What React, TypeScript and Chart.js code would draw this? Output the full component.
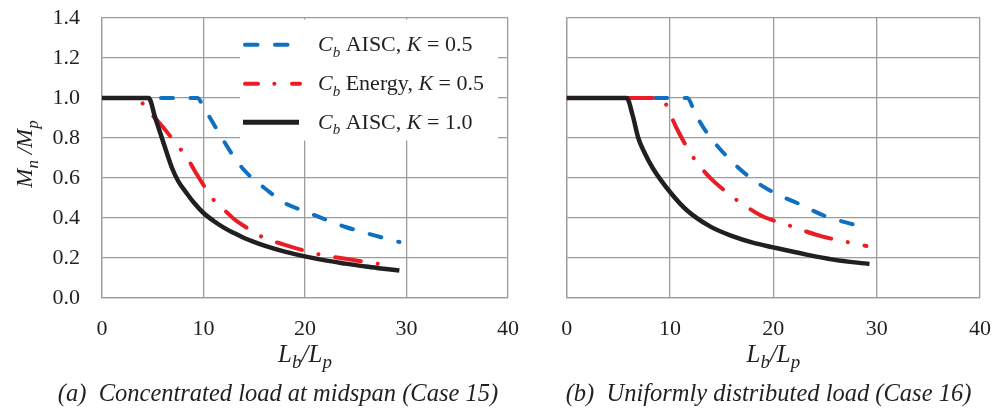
import React, { useEffect, useRef } from 'react';
import { Chart, registerables } from 'chart.js';

Chart.register(...registerables);

// ---------- data ----------
// Panel (a): concentrated load at midspan (Case 15)
const aAisc05X = [0, 9.4, 10, 11, 12, 13, 14, 15, 16, 18, 20, 22, 24, 26, 28, 29.3];
const aAisc05Y = [1.0, 1.0, 0.955, 0.87, 0.785, 0.705, 0.64, 0.59, 0.55, 0.475, 0.433, 0.393, 0.355, 0.325, 0.297, 0.28];
const aEnergy05X = [0, 3.5, 4.3, 5.75, 7.4, 8.4, 9.2, 10, 11, 12, 13, 14, 15.6, 17, 18.5, 20, 21.5, 23, 24.5, 26, 27.9];
const aEnergy05Y = [1.0, 1.0, 0.95, 0.87, 0.765, 0.7, 0.63, 0.565, 0.49, 0.443, 0.395, 0.36, 0.31, 0.282, 0.258, 0.236, 0.217, 0.204, 0.192, 0.18, 0.166];
const aAisc10X = [0, 4.6, 5.25, 6.0, 6.9, 7.5, 8.4, 9, 10, 11, 12, 13, 14, 16, 18, 20, 22, 24, 26, 28, 29.3];
const aAisc10Y = [1.0, 1.0, 0.9, 0.785, 0.65, 0.585, 0.52, 0.48, 0.425, 0.385, 0.352, 0.325, 0.3, 0.262, 0.232, 0.208, 0.188, 0.172, 0.157, 0.145, 0.137];

// Panel (b): uniformly distributed load (Case 16)
const bAisc05X = [0, 11.7, 12.25, 12.9, 13.7, 15.5, 17.6, 20, 22.3, 25, 27.9];
const bAisc05Y = [1.0, 1.0, 0.947, 0.88, 0.817, 0.708, 0.608, 0.528, 0.475, 0.41, 0.365];
const bEnergy05X = [0, 9.2, 9.93, 10.58, 12.03, 12.9, 13.96, 16.3, 17.5, 18.9, 20, 21.8, 23.15, 24.7, 27.6, 29.0];
const bEnergy05Y = [1.0, 1.0, 0.93, 0.855, 0.72, 0.658, 0.597, 0.496, 0.453, 0.41, 0.388, 0.358, 0.333, 0.308, 0.275, 0.26];
const bAisc10X = [0, 5.8, 6.4, 6.93, 7.5, 8.38, 10, 11.6, 13.87, 16.1, 18, 20, 23.2, 25.8, 29.3];
const bAisc10Y = [1.0, 1.0, 0.91, 0.8, 0.73, 0.645, 0.53, 0.44, 0.358, 0.308, 0.277, 0.253, 0.217, 0.192, 0.17];

// axes
const xMin = 0;
const xMax = 40;
const xStep = 10;
const yMin = 0;
const yMax = 1.4;
const yStep = 0.2;

// ---------- texts ----------
type Seg = { t: string; it?: boolean; sub?: boolean };
const yTitle: Seg[] = [{ t: 'M', it: true }, { t: 'n', it: true, sub: true }, { t: ' /', it: true }, { t: 'M', it: true }, { t: 'p', it: true, sub: true }];
const xTitle: Seg[] = [{ t: 'L', it: true }, { t: 'b', it: true, sub: true }, { t: '/', it: true }, { t: 'L', it: true }, { t: 'p', it: true, sub: true }];
const legendLabels: Seg[][] = [
  [{ t: 'C', it: true }, { t: 'b', it: true, sub: true }, { t: ' AISC, ' }, { t: 'K', it: true }, { t: ' = 0.5' }],
  [{ t: 'C', it: true }, { t: 'b', it: true, sub: true }, { t: ' Energy, ' }, { t: 'K', it: true }, { t: ' = 0.5' }],
  [{ t: 'C', it: true }, { t: 'b', it: true, sub: true }, { t: ' AISC, ' }, { t: 'K', it: true }, { t: ' = 1.0' }],
];
const captionA = '(a)  Concentrated load at midspan (Case 15)';
const captionB = '(b)  Uniformly distributed load (Case 16)';

// ---------- styles ----------
const SERIF = '"Liberation Serif", "Times New Roman", serif';
const INK = '#231f20';
const GRID = '#9d9d9d';
const BLUE = '#0f6fc1';
const RED = '#ec1c24';
const BLACK = '#231f20';
const FS = 22;

const zip = (xs: number[], ys: number[]) => xs.map((x, i) => ({ x, y: ys[i] }));

function segFont(s: Seg, size: number, subRatio: number) {
  return `${s.it ? 'italic ' : ''}${s.sub ? Math.round(size * subRatio) : size}px ${SERIF}`;
}

function drawRich(ctx: CanvasRenderingContext2D, segs: Seg[], x: number, y: number, size: number, align: 'left' | 'center', subRatio = 0.66) {
  ctx.save();
  ctx.fillStyle = INK;
  ctx.textBaseline = 'alphabetic';
  ctx.textAlign = 'left';
  const widths = segs.map((s) => {
    ctx.font = segFont(s, size, subRatio);
    return ctx.measureText(s.t).width;
  });
  const total = widths.reduce((a, b) => a + b, 0);
  let cx = align === 'center' ? x - total / 2 : x;
  segs.forEach((s, i) => {
    ctx.font = segFont(s, size, subRatio);
    ctx.fillText(s.t, cx, y + (s.sub ? size * 0.25 : 0));
    cx += widths[i];
  });
  ctx.restore();
}

function makeDatasets(ax: number[], ay: number[], ex: number[], ey: number[], kx: number[], ky: number[]) {
  const common = {
    pointRadius: 0,
    fill: false,
    cubicInterpolationMode: 'monotone' as const,
    borderJoinStyle: 'round' as const,
  };
  return [
    { ...common, label: 'Cb AISC, K = 0.5', data: zip(ax, ay), borderColor: BLUE, borderWidth: 4, borderDash: [12, 17.5], borderCapStyle: 'round' as const, order: 2 },
    { ...common, label: 'Cb Energy, K = 0.5', data: zip(ex, ey), borderColor: RED, borderWidth: 4, borderDash: [26, 17, 0.1, 17], borderCapStyle: 'round' as const, order: 1 },
    { ...common, label: 'Cb AISC, K = 1.0', data: zip(kx, ky), borderColor: BLACK, borderWidth: 4.5, borderCapStyle: 'butt' as const, order: 0 },
  ];
}

function makeScales(yAxisWidth: number, showY: boolean) {
  const tickFont = { family: SERIF, size: FS };
  return {
    x: {
      type: 'linear' as const,
      min: xMin,
      max: xMax,
      ticks: { stepSize: xStep, padding: 18, color: INK, font: tickFont },
      grid: { color: GRID, lineWidth: 1.3, drawTicks: false },
      border: { color: GRID, width: 1.3 },
      afterFit: (s: any) => {
        s.height = 112;
        s.paddingLeft = 0;
        s.paddingRight = 0;
      },
    },
    y: {
      type: 'linear' as const,
      min: yMin,
      max: yMax,
      ticks: {
        display: showY,
        stepSize: yStep,
        padding: 22,
        color: INK,
        font: tickFont,
        callback: (v: any) => Number(v).toFixed(1),
      },
      grid: { color: GRID, lineWidth: 1.3, drawTicks: false },
      border: { color: GRID, width: 1.3 },
      afterFit: (s: any) => {
        s.width = yAxisWidth;
        s.paddingTop = 0;
        s.paddingBottom = 0;
      },
    },
  };
}

function PanelChart(props: { which: 'a' | 'b'; left: number; width: number }) {
  const ref = useRef<HTMLCanvasElement | null>(null);
  const { which, left, width } = props;
  useEffect(() => {
    const canvas = ref.current;
    if (!canvas) return;
    const isA = which === 'a';
    const datasets = isA
      ? makeDatasets(aAisc05X, aAisc05Y, aEnergy05X, aEnergy05Y, aAisc10X, aAisc10Y)
      : makeDatasets(bAisc05X, bAisc05Y, bEnergy05X, bEnergy05Y, bAisc10X, bAisc10Y);

    const deco = {
      id: 'deco' + which,
      beforeDatasetsDraw(chart: any) {
        if (!isA) return;
        const ctx = chart.ctx as CanvasRenderingContext2D;
        ctx.save();
        ctx.fillStyle = '#ffffff';
        ctx.fillRect(240, 19.5, 258, 121);
        ctx.restore();
      },
      afterDraw(chart: any) {
        const ctx = chart.ctx as CanvasRenderingContext2D;
        const ca = chart.chartArea;
        const cxPlot = (ca.left + ca.right) / 2;
        drawRich(ctx, xTitle, cxPlot, 362, 25, 'center', 0.75);
        ctx.save();
        ctx.fillStyle = INK;
        ctx.font = `italic 24.5px ${SERIF}`;
        ctx.textAlign = 'center';
        ctx.textBaseline = 'alphabetic';
        ctx.fillText(isA ? captionA : captionB, isA ? 278 : 238.5, 401);
        ctx.restore();
        if (isA) {
          // y title
          ctx.save();
          ctx.translate(32, (ca.top + ca.bottom) / 2 - 4);
          ctx.rotate(-Math.PI / 2);
          drawRich(ctx, yTitle, 0, 0, 23, 'center', 0.72);
          ctx.restore();
          // legend
          const rows = [44.7, 83.7, 122.3];
          const ds = chart.data.datasets;
          rows.forEach((ry, i) => {
            const d = ds[i];
            ctx.save();
            ctx.strokeStyle = d.borderColor;
            if (i === 0) {
              ctx.lineWidth = 4;
              ctx.lineCap = 'round';
              ctx.setLineDash([12.5, 17.5]);
              ctx.beginPath();
              ctx.moveTo(245, ry);
              ctx.lineTo(297, ry);
              ctx.stroke();
            } else if (i === 1) {
              ctx.lineWidth = 4;
              ctx.lineCap = 'round';
              ctx.setLineDash([13, 16.3, 0.1, 17.6]);
              ctx.beginPath();
              ctx.moveTo(245, ry);
              ctx.lineTo(300, ry);
              ctx.stroke();
            } else {
              ctx.lineWidth = 5;
              ctx.lineCap = 'butt';
              ctx.beginPath();
              ctx.moveTo(243, ry);
              ctx.lineTo(299, ry);
              ctx.stroke();
            }
            ctx.restore();
            drawRich(ctx, legendLabels[i], 318, ry + 6.5, FS, 'left');
          });
        }
      },
    };

    const chart = new Chart(canvas, {
      type: 'line',
      data: { datasets: datasets as any },
      options: {
        responsive: false,
        animation: false,
        devicePixelRatio: 1,
        layout: { padding: isA ? { left: 0, top: 18, right: 22, bottom: 0 } : { left: 0, top: 18, right: 13, bottom: 0 } },
        scales: makeScales(isA ? 102 : 36.7, isA) as any,
        plugins: { legend: { display: false }, tooltip: { enabled: false } },
      },
      plugins: [deco],
    });
    return () => chart.destroy();
  }, [which]);

  return (
    <canvas
      ref={ref}
      width={width}
      height={410}
      style={{ position: 'absolute', left, top: 0, width, height: 410 }}
    />
  );
}

export default function App() {
  return (
    <div style={{ position: 'absolute', left: 0, top: 0, width: 993, height: 410, background: '#ffffff', overflow: 'hidden' }}>
      <PanelChart which="a" left={0} width={530} />
      <PanelChart which="b" left={530} width={463} />
    </div>
  );
}
